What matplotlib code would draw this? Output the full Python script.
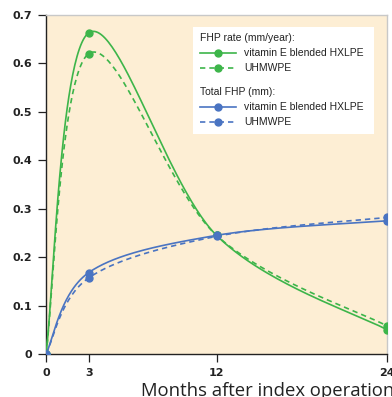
import numpy as np
import matplotlib
matplotlib.use("Agg")
import matplotlib.pyplot as plt
from matplotlib.lines import Line2D
from matplotlib.patches import Rectangle

plt.rcParams['font.family'] = ['Liberation Sans', 'DejaVu Sans']

# Data
months = [0, 3, 12, 24]
rate_vehxlpe = [0.0, 0.663, 0.245, 0.050]
rate_uhmwpe = [0.0, 0.620, 0.245, 0.058]
total_vehxlpe = [0.0, 0.168, 0.245, 0.275]
total_uhmwpe = [0.0, 0.157, 0.243, 0.282]
xticks = [0, 3, 12, 24]
yticks = [0, 0.1, 0.2, 0.3, 0.4, 0.5, 0.6, 0.7]
ytick_labels = ["0", "0.1", "0.2", "0.3", "0.4", "0.5", "0.6", "0.7"]

GREEN = "#3db54a"
BLUE = "#4a74c2"
BG = "#fdeed4"
TXT = "#222222"
DASH = (0, (3.2, 2.4))


def smooth(x, y, n=60):
    P = np.column_stack([x, y]).astype(float)
    ext = np.vstack([P[0], P, P[-1]])
    out = []
    t = np.linspace(0, 1, n)[:, None]
    for i in range(len(P) - 1):
        p0, p1, p2, p3 = ext[i], ext[i + 1], ext[i + 2], ext[i + 3]
        c1 = p1 + (p2 - p0) / 6.0
        c2 = p2 - (p3 - p1) / 6.0
        seg = ((1 - t) ** 3) * p1 + 3 * ((1 - t) ** 2) * t * c1 + 3 * (1 - t) * t ** 2 * c2 + t ** 3 * p2
        out.append(seg if i == 0 else seg[1:])
    s = np.vstack(out)
    return s[:, 0], s[:, 1]


W, H = 392, 397
fig = plt.figure(figsize=(W / 100, H / 100), dpi=100)
ax = fig.add_axes([46 / W, 43 / H, 341 / W, 339 / H])
ax.set_facecolor(BG)

series = [
    (rate_vehxlpe, GREEN, '-'),
    (rate_uhmwpe, GREEN, DASH),
    (total_vehxlpe, BLUE, '-'),
    (total_uhmwpe, BLUE, DASH),
]
for ys, c, ls in series:
    sx, sy = smooth(months, ys)
    ax.plot(sx, sy, color=c, lw=1.2, ls=ls, zorder=3)
    ax.plot(months, ys, ls='none', marker='o', ms=5, color=c, zorder=4)

ax.set_xlim(0, 24)
ax.set_ylim(0, 0.7)
ax.set_xticks(xticks)
ax.set_xticklabels([str(v) for v in xticks])
ax.set_yticks(yticks)
ax.set_yticklabels(ytick_labels)
ax.tick_params(direction='out', length=6, width=0.9, color='#222222',
               labelcolor=TXT)
ax.tick_params(axis='y', pad=4)
ax.tick_params(axis='x', pad=4)
for lab in ax.get_xticklabels() + ax.get_yticklabels():
    lab.set_family('DejaVu Sans')
    lab.set_fontweight('bold')
    lab.set_fontsize(8)
for s in ['left', 'bottom']:
    ax.spines[s].set_color('#222222')
    ax.spines[s].set_linewidth(1.0)
for s in ['top', 'right']:
    ax.spines[s].set_color('#c8c8c8')
    ax.spines[s].set_linewidth(1.0)

fig.text(141 / W, 1.5 / H, "Months after index operation", fontsize=13.3,
         family='Open Sans', color=TXT, ha='left', va='baseline')


# Legend (manual, pixel positions)
def fx(px):
    return px / W


def fy(py):
    return 1 - py / H


fig.patches.append(Rectangle((fx(193), fy(134)), (374 - 193) / W, (134 - 27) / H,
                             transform=fig.transFigure, facecolor='white',
                             edgecolor='none', zorder=5))
legend_items = [
    ("header", "FHP rate (mm/year):", None, None, 38),
    ("item", "vitamin E blended HXLPE", GREEN, '-', 53),
    ("item", "UHMWPE", GREEN, DASH, 68),
    ("header", "Total FHP (mm):", None, None, 92),
    ("item", "vitamin E blended HXLPE", BLUE, '-', 107),
    ("item", "UHMWPE", BLUE, DASH, 122),
]
for kind, label, c, ls, py in legend_items:
    if kind == "header":
        fig.text(fx(200), fy(py), label, fontsize=7.5, color=TXT, ha='left',
                 va='center', zorder=6)
    else:
        fig.add_artist(Line2D([fx(200), fx(236)], [fy(py), fy(py)], color=c, lw=1.2,
                              ls=ls, transform=fig.transFigure, zorder=6))
        fig.add_artist(Line2D([fx(218)], [fy(py)], color=c, marker='o', ms=5,
                              ls='none', transform=fig.transFigure, zorder=7))
        fig.text(fx(244), fy(py), label, fontsize=7.5, color=TXT, ha='left',
                 va='center', zorder=6)

fig.savefig("out.png", dpi=100)
